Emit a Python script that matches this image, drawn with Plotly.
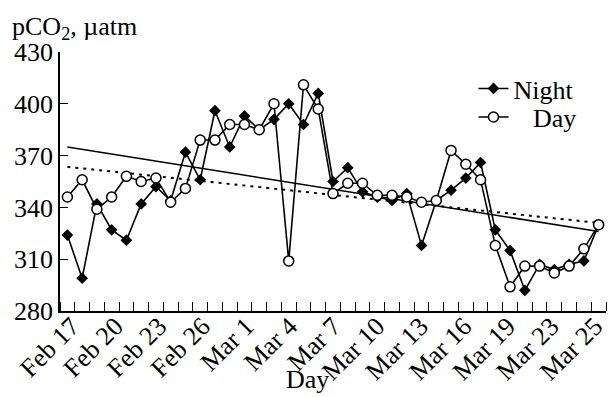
import plotly.graph_objects as go

# ---- data ----
days = ["Feb 17", "Feb 18", "Feb 19", "Feb 20", "Feb 21", "Feb 22", "Feb 23", "Feb 24",
        "Feb 25", "Feb 26", "Feb 27", "Feb 28", "Mar 1", "Mar 2", "Mar 3", "Mar 4",
        "Mar 5", "Mar 6", "Mar 7", "Mar 8", "Mar 9", "Mar 10", "Mar 11", "Mar 12",
        "Mar 13", "Mar 14", "Mar 15", "Mar 16", "Mar 17", "Mar 18", "Mar 19", "Mar 20",
        "Mar 21", "Mar 22", "Mar 23", "Mar 24", "Mar 25"]
night = [324, 299, 342, 327, 321, 342, 352, 344, 372, 356, 396, 375, 393, 385, 391, 400,
         388, 406, 355, 363, 349, 346, 344, 348, 318, 344, 350, 357, 366, 327, 315, 292,
         307, 304, 307, 309, 330]
day = [346, 356, 339, 346, 358, 355, 357, 343, 351, 379, 379, 388, 388, 385, 400, 309,
       411, 397, 348, 354, 354, 347, 347, 346, 343, 344, 373, 365, 356, 318, 294, 306,
       306, 302, 306, 316, 330]
trend_solid = [375, 326]    # values at first and last day
trend_dotted = [363.5, 331]
tick_labels = ["Feb 17", "Feb 20", "Feb 23", "Feb 26", "Mar 1", "Mar 4", "Mar 7",
               "Mar 10", "Mar 13", "Mar 16", "Mar 19", "Mar 23", "Mar 25"]
y_ticks = [280, 310, 340, 370, 400, 430]

n = len(days)
x = list(range(n))
x_ends = [x[0], x[-1]]

FONT = "Liberation Serif, Times New Roman, serif"
FS = 26

# plot-area geometry in pixels (for placing texts in paper coords)
PL, PR, PT, PB = 60, 608, 52, 310.7


def px(xp):
    return (xp - PL) / (PR - PL)


def py(yp):
    return (PB - yp) / (PB - PT)


fig = go.Figure()
fig.add_trace(go.Scatter(x=x_ends, y=trend_solid, mode="lines",
                         line=dict(color="black", width=1.6), showlegend=False,
                         hoverinfo="skip"))
fig.add_trace(go.Scatter(x=x_ends, y=trend_dotted, mode="lines",
                         line=dict(color="black", width=2, dash="3px,5px"),
                         showlegend=False, hoverinfo="skip"))
fig.add_trace(go.Scatter(x=x, y=night, mode="lines+markers", name="Night",
                         line=dict(color="black", width=1.6),
                         marker=dict(symbol="diamond", size=9, color="black"),
                         customdata=days, legend="legend"))
fig.add_trace(go.Scatter(x=x, y=day, mode="lines+markers", name="\u00a0\u00a0\u00a0Day",
                         line=dict(color="black", width=1.6),
                         marker=dict(symbol="circle", size=10, color="white",
                                     line=dict(color="black", width=1.5)),
                         customdata=days, legend="legend2"))

tickvals = [i * 2.954 + 0.3 for i in range(len(tick_labels))]

leg_common = dict(xanchor="left", yanchor="middle", bgcolor="rgba(0,0,0,0)",
                  font=dict(family=FONT, size=FS), itemwidth=30, borderwidth=0)

fig.update_layout(
    width=610, height=397,
    margin=dict(l=PL, r=610 - PR, t=PT, b=397 - PB),
    paper_bgcolor="white", plot_bgcolor="white",
    font=dict(family=FONT, size=FS, color="black"),
    showlegend=True,
    legend=dict(x=px(475), y=py(88.5), **leg_common),
    legend2=dict(x=px(475), y=py(117), **leg_common),
    xaxis=dict(range=[-0.5, n - 0.5], showline=True, linecolor="black", linewidth=1.5,
               showgrid=False, zeroline=False,
               tickmode="array", tickvals=tickvals, ticktext=tick_labels,
               ticks="", tickangle=-45, ticklabelstandoff=-12,
               ticklabeloverflow="allow",
               tickfont=dict(family=FONT, size=FS),
               minor=dict(tickmode="linear", tick0=-0.5, dtick=1, ticks="inside",
                          ticklen=9, tickwidth=1.2, tickcolor="black", showgrid=False)),
    yaxis=dict(range=[280, 430], showline=True, linecolor="black", linewidth=1.5,
               showgrid=False, zeroline=False,
               tickmode="array", tickvals=y_ticks, ticks="inside", ticklen=8,
               tickwidth=1.2, tickcolor="black",
               tickfont=dict(family=FONT, size=FS)),
    annotations=[
        dict(text="pCO<sub>2</sub>, µatm", xref="paper", yref="paper",
             x=px(10), y=py(10), xanchor="left", yanchor="top",
             showarrow=False, font=dict(family=FONT, size=FS)),
        dict(text="Day", xref="paper", yref="paper",
             x=px(308), y=py(396), xanchor="center", yanchor="bottom",
             showarrow=False, font=dict(family=FONT, size=FS)),
    ],
)

fig.write_html("out.html")
